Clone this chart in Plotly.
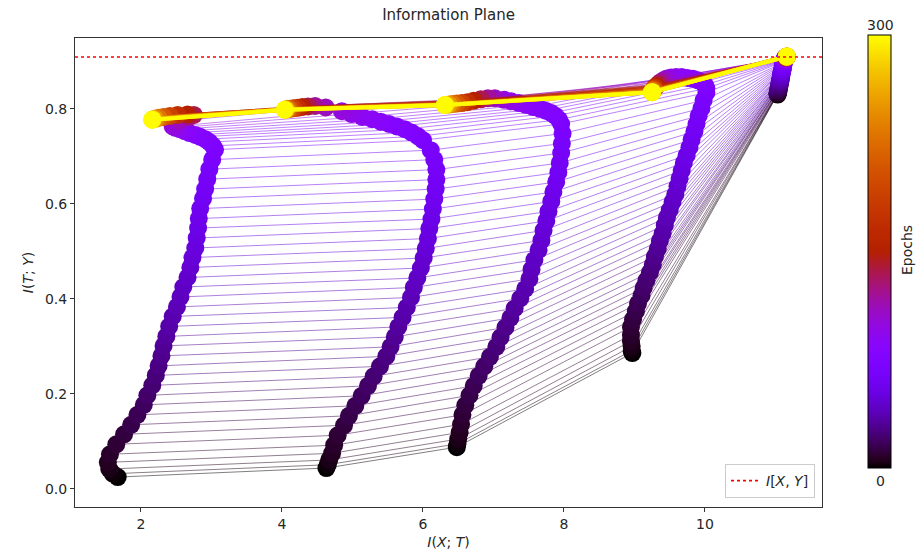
import numpy as np
import plotly.graph_objects as go

# ---------------- data ----------------
EPOCHS = [0, 2, 4, 6, 8, 10, 12, 14, 16, 18, 20, 22, 24, 26, 28, 30, 32, 34,
          36, 38, 40, 42, 44, 46, 48, 50, 52, 54, 56, 58, 60, 62, 64, 66, 68, 70,
          72, 74, 76, 78, 80, 83, 86, 90, 95, 100, 110, 120, 135, 150, 170, 190,
          210, 230, 250, 270, 285, 299]
MAX_EPOCH = 300
IXY = 0.909  # I[X, Y]

# Layer 5 (lowest I(X;T))
L5_X = [1.67, 1.60, 1.55, 1.53, 1.56, 1.65, 1.76, 1.86, 1.95, 2.04, 2.09, 2.16,
        2.21, 2.25, 2.29, 2.32, 2.36, 2.40, 2.45, 2.51, 2.56, 2.60, 2.66, 2.70,
        2.73, 2.77, 2.79, 2.81, 2.82, 2.84, 2.88, 2.91, 2.94, 2.97, 3.01, 3.05,
        3.02, 2.97, 2.91, 2.84, 2.77, 2.69, 2.62, 2.55, 2.49, 2.45, 2.55, 2.68,
        2.75, 2.66, 2.52, 2.41, 2.32, 2.25, 2.20, 2.17, 2.16, 2.16]
L5_Y = [0.025, 0.032, 0.042, 0.056, 0.073, 0.094, 0.115, 0.135, 0.156, 0.177,
        0.197, 0.218, 0.239, 0.259, 0.280, 0.301, 0.321, 0.342, 0.363, 0.383,
        0.404, 0.425, 0.445, 0.466, 0.487, 0.507, 0.528, 0.549, 0.569, 0.590,
        0.611, 0.631, 0.652, 0.673, 0.693, 0.714,
        0.722, 0.730, 0.736, 0.741, 0.745, 0.749, 0.753, 0.757, 0.760, 0.763,
        0.775, 0.783, 0.787, 0.788, 0.787, 0.785, 0.783, 0.781, 0.779, 0.778,
        0.777, 0.777]

# Layer 4
L4_X = [4.63, 4.65, 4.67, 4.71, 4.74, 4.79, 4.88, 4.95, 5.04, 5.13, 5.22, 5.30,
        5.39, 5.48, 5.54, 5.60, 5.65, 5.71, 5.77, 5.83, 5.87, 5.92, 5.97, 6.01,
        6.04, 6.07, 6.09, 6.12, 6.14, 6.16, 6.18, 6.19, 6.19, 6.16, 6.11, 6.00,
        5.93, 5.84, 5.74, 5.63, 5.52, 5.40, 5.28, 5.14, 4.99, 4.85, 4.62, 4.47,
        4.37, 4.29, 4.22, 4.16, 4.11, 4.08, 4.06, 4.05, 4.04, 4.04]
L4_Y = [0.044, 0.051, 0.061, 0.075, 0.092, 0.113, 0.134, 0.154, 0.175, 0.196,
        0.217, 0.237, 0.258, 0.279, 0.299, 0.320, 0.341, 0.361, 0.382, 0.403,
        0.424, 0.444, 0.465, 0.486, 0.506, 0.527, 0.548, 0.568, 0.589, 0.610,
        0.631, 0.651, 0.672, 0.693, 0.713, 0.734,
        0.742, 0.750, 0.757, 0.763, 0.768, 0.773, 0.778, 0.783, 0.789, 0.795,
        0.803, 0.806, 0.805, 0.804, 0.802, 0.801, 0.800, 0.799, 0.799, 0.798,
        0.798, 0.798]

# Layer 3
L3_X = [6.48, 6.49, 6.50, 6.52, 6.54, 6.56, 6.60, 6.66, 6.72, 6.79, 6.87, 6.95,
        7.04, 7.10, 7.17, 7.24, 7.30, 7.38, 7.45, 7.51, 7.54, 7.58, 7.64, 7.68,
        7.71, 7.75, 7.78, 7.82, 7.85, 7.89, 7.92, 7.94, 7.96, 7.97, 7.98, 7.96,
        7.93, 7.88, 7.82, 7.74, 7.66, 7.56, 7.46, 7.36, 7.25, 7.15, 7.02, 6.92,
        6.82, 6.72, 6.63, 6.55, 6.48, 6.42, 6.37, 6.33, 6.31, 6.31]
L3_Y = [0.088, 0.095, 0.105, 0.119, 0.136, 0.156, 0.176, 0.197, 0.217, 0.238,
        0.258, 0.278, 0.299, 0.319, 0.340, 0.360, 0.380, 0.401, 0.421, 0.442,
        0.462, 0.482, 0.503, 0.523, 0.544, 0.564, 0.584, 0.605, 0.625, 0.646,
        0.666, 0.686, 0.707, 0.727, 0.748, 0.768,
        0.777, 0.785, 0.791, 0.796, 0.800, 0.804, 0.808, 0.812, 0.816, 0.819,
        0.822, 0.822, 0.820, 0.817, 0.814, 0.812, 0.811, 0.810, 0.809, 0.808,
        0.808, 0.808]

# Layer 2
L2_X = [8.97, 8.96, 8.96, 8.95, 8.95, 8.95, 8.98, 9.02, 9.05, 9.10, 9.13, 9.17,
        9.22, 9.26, 9.29, 9.33, 9.36, 9.40, 9.43, 9.46, 9.50, 9.54, 9.58, 9.61,
        9.64, 9.67, 9.70, 9.74, 9.78, 9.81, 9.85, 9.88, 9.91, 9.95, 9.98, 10.02,
        10.02, 10.00, 9.96, 9.90, 9.83, 9.75, 9.67, 9.59, 9.52, 9.46, 9.41, 9.37,
        9.34, 9.31, 9.29, 9.28, 9.27, 9.26, 9.25, 9.25, 9.25, 9.25]
L2_Y = [0.286, 0.291, 0.300, 0.311, 0.324, 0.341, 0.357, 0.374, 0.390, 0.407,
        0.423, 0.439, 0.456, 0.472, 0.489, 0.505, 0.522, 0.538, 0.555, 0.571,
        0.587, 0.604, 0.620, 0.637, 0.653, 0.670, 0.686, 0.702, 0.719, 0.735,
        0.752, 0.768, 0.785, 0.801, 0.818, 0.834,
        0.843, 0.850, 0.856, 0.860, 0.863, 0.865, 0.867, 0.867, 0.866, 0.864,
        0.860, 0.856, 0.852, 0.848, 0.845, 0.842, 0.840, 0.838, 0.836, 0.835,
        0.835, 0.835]

# Layer 1 (highest I(X;T))
L1_X = [11.03, 11.03, 11.03, 11.03, 11.04, 11.04, 11.04, 11.04, 11.05, 11.05,
        11.05, 11.06, 11.06, 11.06, 11.06, 11.07, 11.07, 11.07, 11.07, 11.08,
        11.08, 11.08, 11.08, 11.09, 11.09, 11.09, 11.10, 11.10, 11.10, 11.10,
        11.11, 11.11, 11.11, 11.11, 11.12, 11.12,
        11.12, 11.12, 11.13, 11.13, 11.13, 11.13, 11.14, 11.14, 11.14, 11.14,
        11.15, 11.15, 11.15, 11.15, 11.15, 11.16, 11.16, 11.16, 11.16, 11.16,
        11.16, 11.16]
L1_Y = [0.830, 0.831, 0.832, 0.833, 0.835, 0.837, 0.839, 0.841, 0.843, 0.845,
        0.848, 0.850, 0.852, 0.854, 0.856, 0.858, 0.860, 0.862, 0.864, 0.866,
        0.869, 0.871, 0.873, 0.875, 0.877, 0.879, 0.881, 0.883, 0.885, 0.887,
        0.890, 0.892, 0.894, 0.896, 0.898, 0.900,
        0.901, 0.902, 0.903, 0.904, 0.904, 0.905, 0.905, 0.906, 0.906, 0.907,
        0.907, 0.908, 0.908, 0.909, 0.909, 0.909, 0.910, 0.910, 0.910, 0.910,
        0.910, 0.910]

LAYERS_X = [L5_X, L4_X, L3_X, L2_X, L1_X]
LAYERS_Y = [L5_Y, L4_Y, L3_Y, L2_Y, L1_Y]

X_RANGE = [1.064, 11.66]
Y_RANGE = [-0.038, 0.949]
X_TICKS = [2, 4, 6, 8, 10]
Y_TICKS = [0.0, 0.2, 0.4, 0.6, 0.8]


# ---------------- colormap (matplotlib "gnuplot") ----------------
def gnuplot(v):
    r = np.sqrt(v)
    g = v ** 3
    b = max(np.sin(2 * np.pi * v), 0.0)
    return int(round(255 * r)), int(round(255 * g)), int(round(255 * b))


COLORSCALE = [[i / 60, "rgb(%d,%d,%d)" % gnuplot(i / 60)] for i in range(61)]

FONT = "DejaVu Sans"
TXT = "#262626"
fig = go.Figure()

n = len(EPOCHS)
for i, ep in enumerate(EPOCHS):
    xs = [lx[i] for lx in LAYERS_X]
    ys = [ly[i] for ly in LAYERS_Y]
    r, g, b = gnuplot(ep / MAX_EPOCH)
    if ep >= 230:
        w, a = 4.0, 1.0
    elif ep >= 150:
        w, a = 2.5, 0.8
    else:
        w, a = 1.0, 0.5
    fig.add_trace(go.Scatter(
        x=xs, y=ys, mode="lines",
        line=dict(color="rgba(%d,%d,%d,%.2f)" % (r, g, b, a), width=w),
        showlegend=False, hoverinfo="skip"))
    fig.add_trace(go.Scatter(
        x=xs, y=ys, mode="markers",
        marker=dict(
            size=18, color=[ep] * len(xs), colorscale=COLORSCALE,
            cmin=0, cmax=MAX_EPOCH, line=dict(width=0),
            showscale=(i == n - 1),
            colorbar=dict(
                x=(868 - 75) / 747, xanchor="left", xpad=0,
                y=(507 - 35) / 469, yanchor="top", ypad=0,
                len=433 / 469, lenmode="fraction",
                thickness=23, thicknessmode="pixels",
                outlinewidth=1, outlinecolor="black",
                showticklabels=False, ticks=""),
        ),
        showlegend=False, hoverinfo="skip"))

fig.add_trace(go.Scatter(
    x=X_RANGE, y=[IXY, IXY], mode="lines",
    line=dict(color="red", dash="dot", width=1.6),
    name="<i>I</i>[<i>X</i>, <i>Y</i>]", showlegend=True))

axis_common = dict(
    showgrid=False, zeroline=False, showline=True, mirror=True,
    linecolor="#333", linewidth=1, ticks="outside", ticklen=4,
    tickwidth=1, tickcolor="#333",
    tickfont=dict(family=FONT, size=14, color=TXT))


def pxx(px):
    return (px - 75) / 747


def pxy(py):
    return (507 - py) / 469


fig.update_layout(
    width=917, height=559,
    margin=dict(l=75, r=95, t=38, b=52),
    paper_bgcolor="white", plot_bgcolor="white",
    font=dict(family=FONT, size=14, color=TXT),
    title=dict(text="Information Plane", x=(75 + 822) / 2 / 917, xanchor="center",
               y=1 - 15 / 559, yanchor="middle",
               font=dict(family=FONT, size=15, color=TXT)),
    xaxis=dict(range=X_RANGE, tickvals=X_TICKS,
               title=dict(text="<i>I</i>(<i>X</i>; <i>T</i>)", standoff=6,
                          font=dict(family=FONT, size=14)),
               **axis_common),
    yaxis=dict(range=Y_RANGE, tickvals=Y_TICKS, tickformat=".1f",
               title=dict(text="<i>I</i>(<i>T</i>; <i>Y</i>)", standoff=8,
                          font=dict(family=FONT, size=14)),
               **axis_common),
    legend=dict(x=pxx(815), xanchor="right",
                y=pxy(498), yanchor="bottom",
                bgcolor="rgba(255,255,255,0.8)", bordercolor="#ccc",
                borderwidth=1, font=dict(family=FONT, size=14, color=TXT)),
    annotations=[
        dict(text="300", x=pxx(880), y=pxy(25), xanchor="center", yanchor="middle",
             xref="paper", yref="paper", showarrow=False,
             font=dict(family=FONT, size=14, color=TXT)),
        dict(text="0", x=pxx(880), y=pxy(481), xanchor="center", yanchor="middle",
             xref="paper", yref="paper", showarrow=False,
             font=dict(family=FONT, size=14, color=TXT)),
        dict(text="Epochs", x=pxx(907), y=pxy(250), xanchor="center", yanchor="middle",
             xref="paper", yref="paper", showarrow=False, textangle=-90,
             font=dict(family=FONT, size=14, color=TXT)),
    ],
)

fig.write_html("out.html")
